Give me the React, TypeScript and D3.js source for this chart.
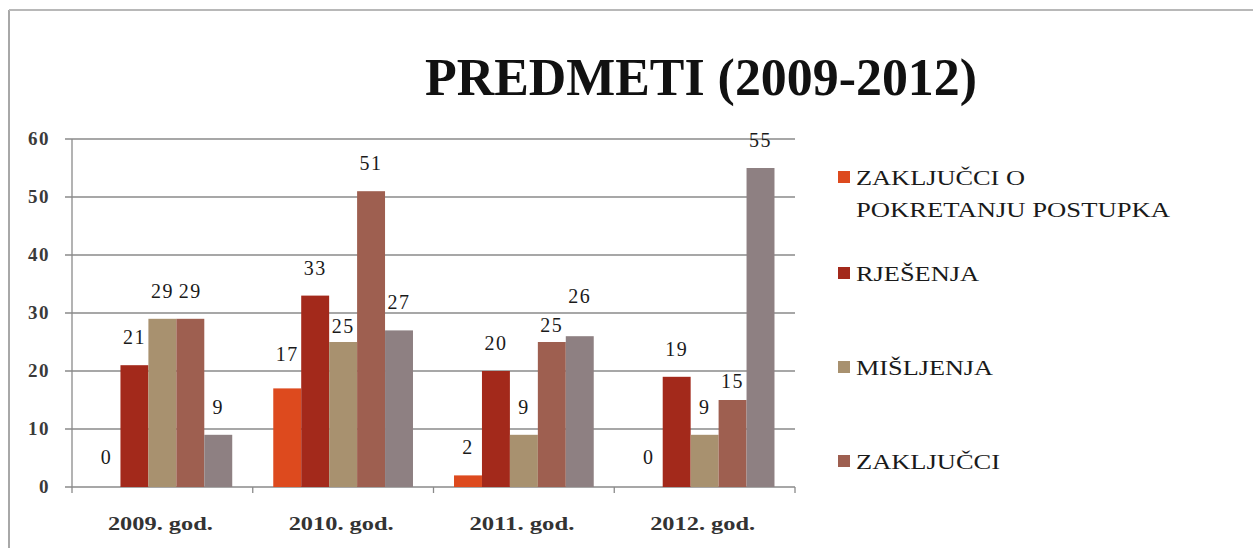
import React from "react";
import * as d3 from "d3";

const categories = ["2009. god.", "2010. god.", "2011. god.", "2012. god."];
const seriesNames = [
  "ZAKLJUČCI O POKRETANJU POSTUPKA",
  "RJEŠENJA",
  "MIŠLJENJA",
  "ZAKLJUČCI",
  "OSTALO",
];
const zakljucciPokretanje = [0, 17, 2, 0];
const rjesenja = [21, 33, 20, 19];
const misljenja = [29, 25, 9, 9];
const zakljucci = [29, 51, 25, 15];
const ostalo = [9, 27, 26, 55];
const yTicks = [0, 10, 20, 30, 40, 50, 60];

const seriesValues = [zakljucciPokretanje, rjesenja, misljenja, zakljucci, ostalo];
const colors = ["#DD4A1E", "#A3291B", "#A8916F", "#9E5F50", "#8E8082"];
// small manual label nudges (px, negative = higher) as in the original slide
const labelNudge = [
  [-2, -6, 0, -2],
  [0, 0, 0, 0],
  [0, 12, 0, 0],
  [0, 0, 11, 9],
  [0, 0, -12, 0],
];
const legendEntries = [
  { lines: ["ZAKLJUČCI O", "POKRETANJU POSTUPKA"], widths: [169, 314], baseline: 185 },
  { lines: ["RJEŠENJA"], widths: [123], baseline: 281 },
  { lines: ["MIŠLJENJA"], widths: [137], baseline: 375 },
  { lines: ["ZAKLJUČCI"], widths: [144], baseline: 469 },
];

const W = 1253;
const H = 548;
const left = 72;
const right = 795;
const top = 139;
const bottom = 487;
const serif = { fontFamily: "'Liberation Serif', 'DejaVu Serif', serif" };

export default function App() {
  const x0 = d3.scaleBand<string>().domain(categories).range([left, right]).padding(0);
  const bw = x0.bandwidth();
  const x1 = d3
    .scaleBand<number>()
    .domain(d3.range(seriesNames.length))
    .range([bw * 0.1135, bw * 0.8865])
    .padding(0);
  const y = d3.scaleLinear().domain([0, 60]).range([bottom, top]);

  return (
    <svg
      width={W}
      height={H}
      style={{ position: "absolute", left: 0, top: 0, background: "#fff" }}
    >
      <rect x={0} y={0} width={W} height={H} fill="#fff" />
      {/* frame */}
      <line x1={9} y1={10} x2={9} y2={H} stroke="#a8a8a8" strokeWidth={2} />
      <line x1={9} y1={10} x2={W} y2={10} stroke="#b8b8b8" strokeWidth={2} />

      {/* title */}
      <text
        x={701}
        y={95}
        textAnchor="middle"
        fontSize={52}
        fontWeight="bold"
        fill="#111"
        textLength={552}
        lengthAdjust="spacingAndGlyphs"
        style={serif}
      >
        PREDMETI (2009-2012)
      </text>

      {/* gridlines and y ticks */}
      {yTicks.map((t) => (
        <g key={t}>
          <line x1={65} x2={right} y1={y(t)} y2={y(t)} stroke="#8a8a8a" strokeWidth={1.3} />
          <text
            x={50}
            y={y(t) + 6}
            textAnchor="end"
            fontSize={19}
            fontWeight="bold"
            fill="#3a3a3a"
            letterSpacing={1.5}
            style={serif}
          >
            {t}
          </text>
        </g>
      ))}
      <line x1={left} x2={left} y1={top} y2={bottom} stroke="#8a8a8a" strokeWidth={1.3} />
      {categories.map((c) => (
        <line key={c} x1={x0(c)!} x2={x0(c)!} y1={bottom} y2={bottom + 6} stroke="#8a8a8a" strokeWidth={1.3} />
      ))}
      <line x1={right} x2={right} y1={bottom} y2={bottom + 6} stroke="#8a8a8a" strokeWidth={1.3} />

      {/* bars */}
      {seriesValues.map((vals, si) =>
        vals.map((v, ci) => {
          const bx = x0(categories[ci])! + x1(si)!;
          return (
            <rect
              key={`${si}-${ci}`}
              x={bx}
              y={y(v)}
              width={x1.bandwidth()}
              height={bottom - y(v)}
              fill={colors[si]}
            />
          );
        })
      )}

      {/* data labels */}
      {seriesValues.map((vals, si) =>
        vals.map((v, ci) => {
          const cx = x0(categories[ci])! + x1(si)! + x1.bandwidth() / 2;
          return (
            <text
              key={`l${si}-${ci}`}
              x={cx}
              y={y(v) - 21 + labelNudge[si][ci]}
              textAnchor="middle"
              fontSize={20}
              fill="#1a1a1a"
              letterSpacing={1.5}
              style={serif}
            >
              {v}
            </text>
          );
        })
      )}

      {/* category labels */}
      {categories.map((c) => (
        <text
          key={c}
          x={x0(c)! + bw / 2 - 2}
          y={530}
          textAnchor="middle"
          fontSize={19}
          fontWeight="bold"
          fill="#333"
          textLength={105}
          lengthAdjust="spacingAndGlyphs"
          style={serif}
        >
          {c}
        </text>
      ))}

      {/* legend */}
      {legendEntries.map((e, i) => (
        <g key={i}>
          <rect x={838} y={e.baseline - 14} width={12} height={12} fill={colors[i]} />
          {e.lines.map((ln, li) => (
            <text
              key={li}
              x={856}
              y={e.baseline + li * 32}
              fontSize={22}
              fill="#1a1a1a"
              textLength={e.widths[li]}
              lengthAdjust="spacingAndGlyphs"
              style={serif}
            >
              {ln}
            </text>
          ))}
        </g>
      ))}
    </svg>
  );
}
